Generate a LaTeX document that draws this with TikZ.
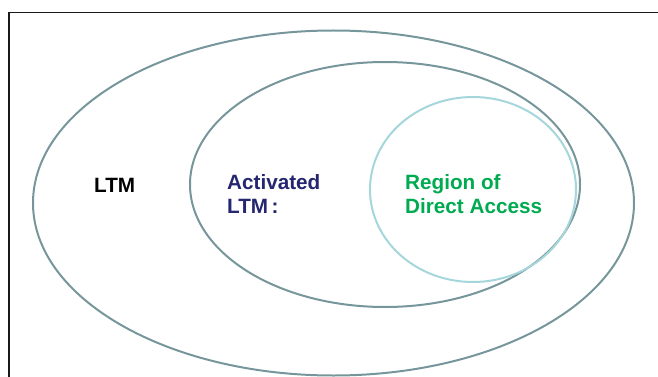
\documentclass[tikz,border=0pt]{standalone}
\usepackage{fontspec}
\setmainfont{Liberation Sans}
\usepackage{xcolor}
\usepackage{tikz}
\usetikzlibrary{positioning}
\definecolor{ringgrey}{RGB}{118, 150, 155}
\definecolor{ringcyan}{RGB}{165, 214, 220}
\definecolor{textnavy}{RGB}{36, 38, 112}
\definecolor{textgreen}{RGB}{0, 170, 80}

\tikzset{
    ring/.style={draw=ringgrey, line width=2pt},
    innerring/.style={draw=ringcyan, line width=2pt},
    label/.style={font=\fontsize{20.7}{24}\selectfont\bfseries, inner sep=0pt, align=left}
}

\begin{document}
\begin{tikzpicture}[x=1pt, y=-1pt]
    \useasboundingbox (0, 0) rectangle (658, 377);
    
    % Frame
    \draw[black!90, line width=1.2pt] (9, 377) -- (9, 12.5) -- (658, 12.5);
    
    % Rings
    \draw[ring] (333.5, 203) ellipse [x radius=300.5, y radius=172.5];
    \draw[ring] (385, 184.5) ellipse [x radius=195, y radius=122.5];
    \draw[innerring] (473, 189.5) ellipse [x radius=103, y radius=92.5];
    
    % Labels
    \node[label, anchor=base west, color=black] (ltm) at (94, 192) {LTM};
    \node[label, anchor=west, color=textnavy] (activated) at (227, 194) {Activated\\LTM\,:};
    \node[label, anchor=west, color=textgreen] (direct) at (405, 194) {Region of\\Direct Access};
\end{tikzpicture}
\end{document}
